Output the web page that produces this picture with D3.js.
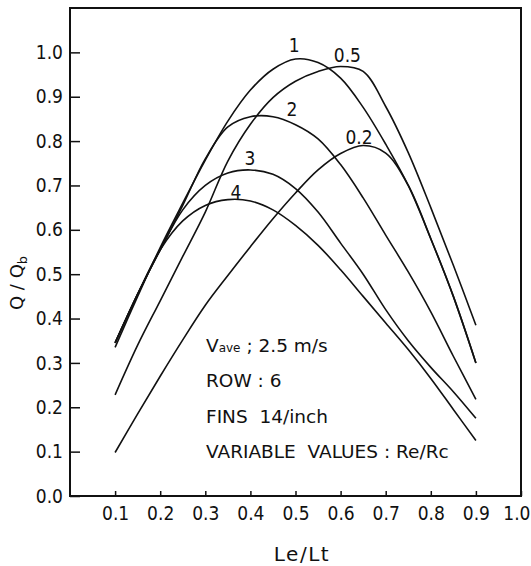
<!DOCTYPE html>
<html>
<head>
<meta charset="utf-8">
<script src="https://cdn.jsdelivr.net/npm/d3@7"></script>
<style>
  html, body { margin: 0; padding: 0; background: #fff; }
  svg { display: block; }
  text { font-family: 'DejaVu Sans Condensed', 'DejaVu Sans', sans-serif; font-stretch: condensed; fill: #111; }
  text.wide { font-family: 'DejaVu Sans', sans-serif; font-stretch: normal; }
</style>
</head>
<body>
<svg id="chart" width="531" height="566"></svg>
<script>
// Le/Lt sample positions shared by all curves
const leLt = [0.10, 0.15, 0.20, 0.25, 0.30, 0.35, 0.40, 0.45, 0.50, 0.55,
              0.60, 0.65, 0.70, 0.75, 0.80, 0.85, 0.90];

// Q/Qb for each Re/Rc value
const qRe1   = [0.335, 0.450, 0.560, 0.660, 0.757, 0.845, 0.915, 0.962, 0.985, 0.977,
                0.942, 0.876, 0.793, 0.700, 0.580, 0.450, 0.300];
const qRe05  = [0.228, 0.340, 0.440, 0.540, 0.640, 0.755, 0.838, 0.898, 0.935, 0.957,
                0.968, 0.957, 0.878, 0.774, 0.650, 0.520, 0.385];
const qRe02  = [0.098, 0.185, 0.270, 0.352, 0.430, 0.497, 0.562, 0.625, 0.683, 0.735,
                0.772, 0.790, 0.773, 0.700, 0.580, 0.450, 0.300];
const qRe2   = [0.345, 0.455, 0.555, 0.655, 0.760, 0.832, 0.855, 0.855, 0.837, 0.805,
                0.747, 0.672, 0.588, 0.505, 0.415, 0.315, 0.218];
const qRe3   = [0.345, 0.455, 0.555, 0.645, 0.700, 0.728, 0.735, 0.725, 0.693, 0.640,
                0.570, 0.500, 0.420, 0.350, 0.290, 0.235, 0.175];
const qRe4   = [0.345, 0.455, 0.555, 0.620, 0.655, 0.668, 0.665, 0.645, 0.610, 0.565,
                0.510, 0.450, 0.390, 0.330, 0.265, 0.195, 0.125];

const seriesNames = ["1", "0.5", "0.2", "2", "3", "4"];
const seriesValues = [qRe1, qRe05, qRe02, qRe2, qRe3, qRe4];
// where each Re/Rc label sits (Le/Lt, Q/Qb of its baseline centre)
const labelAt = [[0.497, 0.998], [0.615, 0.976], [0.641, 0.791], [0.492, 0.855], [0.399, 0.743], [0.368, 0.667]];

const xTicks = [0.1, 0.2, 0.3, 0.4, 0.5, 0.6, 0.7, 0.8, 0.9, 1.0];
const yTicks = [0.0, 0.1, 0.2, 0.3, 0.4, 0.5, 0.6, 0.7, 0.8, 0.9, 1.0];

const notes = ["ROW : 6", "FINS  14/inch", "VARIABLE  VALUES : Re/Rc"];

const svg = d3.select("#chart");
const plotLeft = 70, plotRight = 521, plotTop = 8, plotBottom = 496;

const x = d3.scaleLinear().domain([0, 1.0]).range([plotLeft, plotRight]);
const y = d3.scaleLinear().domain([0, 1.1]).range([plotBottom, plotTop]);

// axes with inward ticks
const xAxis = d3.axisBottom(x).tickValues(xTicks).tickSize(-5).tickPadding(11)
  .tickFormat(d3.format(".1f"));
const yAxis = d3.axisLeft(y).tickValues(yTicks).tickSize(-10).tickPadding(7)
  .tickFormat(d3.format(".1f"));

const gx = svg.append("g").attr("transform", `translate(0,${plotBottom})`).call(xAxis);
const gy = svg.append("g").attr("transform", `translate(${plotLeft},0)`).call(yAxis);
[gx, gy].forEach(g => {
  g.select(".domain").remove();
  g.selectAll(".tick line").attr("stroke", "#111").attr("stroke-width", 1.5);
  g.selectAll(".tick text").attr("font-size", 19).attr("fill", "#111")
    .style("font-family", "'DejaVu Sans Condensed', 'DejaVu Sans', sans-serif");
});
// keep the last x label inside the page
gx.selectAll(".tick text").filter(d => d === 1.0)
  .attr("text-anchor", "end").attr("x", 530 - x(1.0));

// frame
svg.append("rect")
  .attr("x", plotLeft).attr("y", plotTop)
  .attr("width", plotRight - plotLeft).attr("height", plotBottom - plotTop)
  .attr("fill", "none").attr("stroke", "#111").attr("stroke-width", 2);

// curves
const line = d3.line()
  .x(d => x(d[0])).y(d => y(d[1]))
  .curve(d3.curveCatmullRom.alpha(0.5));

svg.append("g").selectAll("path")
  .data(seriesValues)
  .join("path")
  .attr("d", vals => line(vals.map((v, i) => [leLt[i], v])))
  .attr("fill", "none")
  .attr("stroke", "#111")
  .attr("stroke-width", 1.6);

// curve labels
svg.append("g").selectAll("text")
  .data(seriesNames)
  .join("text")
  .attr("x", (d, i) => x(labelAt[i][0]))
  .attr("y", (d, i) => y(labelAt[i][1]) - 1)
  .attr("text-anchor", "middle")
  .attr("font-size", 19)
  .text(d => d);

// conditions block
const nx = 206, ny0 = 351.5, ndy = 35.6;
const vt = svg.append("text").attr("class", "wide").attr("x", nx).attr("y", ny0).attr("font-size", 18.5);
vt.append("tspan").text("V");
vt.append("tspan").attr("font-size", 12).text("ave");
vt.append("tspan").text(" ; 2.5 m/s");
notes.forEach((t, i) => {
  svg.append("text").attr("class", "wide").attr("x", nx).attr("y", ny0 + ndy * (i + 1))
    .attr("font-size", 18.5).style("white-space", "pre").text(t);
});

// axis titles
svg.append("text").attr("class", "wide").attr("x", 302).attr("y", 561).attr("text-anchor", "middle")
  .attr("font-size", 20).attr("letter-spacing", 1.5).text("Le/Lt");
const yt = svg.append("text").attr("class", "wide").attr("transform", "translate(23,283) rotate(-90)")
  .attr("text-anchor", "middle").attr("font-size", 18);
yt.append("tspan").text("Q / Q");
yt.append("tspan").attr("font-size", 13).attr("dy", 4).text("b");
</script>
</body>
</html>
